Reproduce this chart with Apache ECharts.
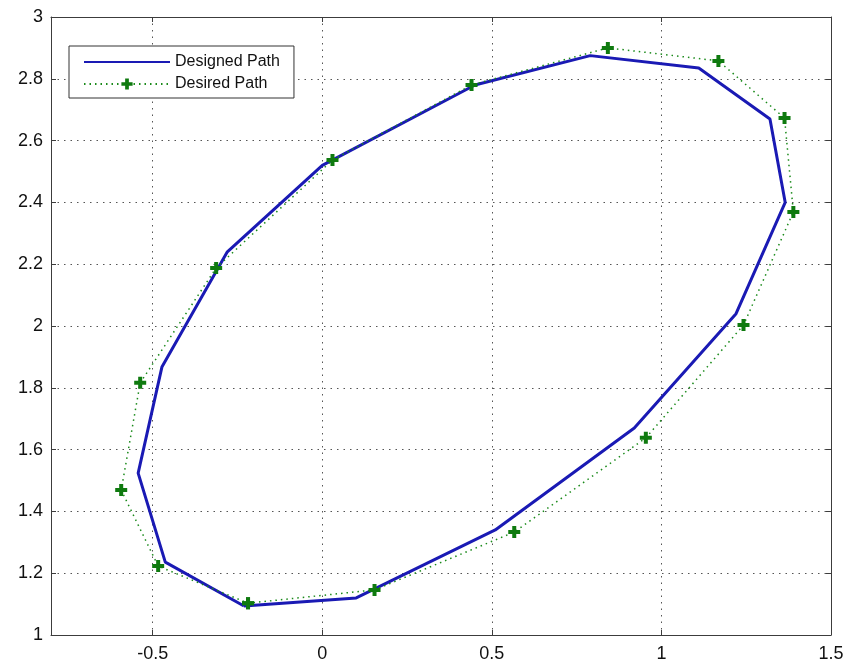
<!DOCTYPE html>
<html>
<head>
<meta charset="utf-8">
<script src="https://cdn.jsdelivr.net/npm/echarts@6/dist/echarts.min.js"></script>
<style>
  html, body { margin: 0; padding: 0; background: #fff; }
  #chart { width: 849px; height: 668px; }
</style>
</head>
<body>
<div id="chart"></div>
<script>
// path points (closed loops, first point repeated at the end)
const designedX = [-0.231, 0.10, 0.51, 0.92, 1.22, 1.365, 1.32, 1.11, 0.79, 0.45, 0.0, -0.28, -0.473, -0.543, -0.463, -0.231]
const designedY = [1.094, 1.12, 1.34, 1.67, 2.04, 2.40, 2.67, 2.835, 2.875, 2.78, 2.52, 2.24, 1.867, 1.524, 1.236, 1.094]

const desiredX = [-0.219, 0.154, 0.566, 0.954, 1.242, 1.389, 1.363, 1.168, 0.842, 0.44, 0.03, -0.313, -0.537, -0.593, -0.484, -0.219]
const desiredY = [1.103, 1.146, 1.333, 1.638, 2.003, 2.369, 2.673, 2.858, 2.90, 2.78, 2.537, 2.188, 1.816, 1.469, 1.223, 1.103]

const xTicks = [-0.5, 0, 0.5, 1, 1.5]
const seriesNames = ['Designed Path', 'Desired Path']

const pairs = (xs, ys) => xs.map((x, i) => [x, ys[i]])

const font = 'Liberation Sans, Arial, sans-serif'
const axisColor = '#3c3c3c'
const gridLine = { show: true, lineStyle: { color: '#555', width: 1, type: [1.5, 5] } }

const chart = echarts.init(document.getElementById('chart'))

const baseX = {
  type: 'value',
  min: -0.8,
  max: 1.5,
  axisLine: { show: true, onZero: false, lineStyle: { color: axisColor, width: 1 } },
  axisTick: { show: true, inside: true, length: 5, customValues: xTicks, lineStyle: { color: axisColor } },
  axisLabel: { customValues: xTicks, color: '#111', fontSize: 18, fontFamily: font, margin: 10 },
  splitLine: gridLine
}
const baseY = {
  type: 'value',
  min: 1,
  max: 3,
  interval: 0.2,
  axisLine: { show: true, onZero: false, lineStyle: { color: axisColor, width: 1 } },
  axisTick: { show: true, inside: true, length: 5, lineStyle: { color: axisColor } },
  axisLabel: { color: '#111', fontSize: 18, fontFamily: font, margin: 8 },
  splitLine: gridLine
}

chart.setOption({
  animation: false,
  backgroundColor: '#fff',
  grid: { left: 51, right: 18, top: 17, bottom: 33 },
  legend: {
    orient: 'vertical',
    left: 69,
    top: 46,
    padding: [8, 14, 6, 14],
    itemGap: 6,
    itemWidth: 86,
    itemHeight: 14,
    backgroundColor: '#fff',
    borderColor: '#333',
    borderWidth: 1,
    borderRadius: 0,
    textStyle: { fontSize: 16, fontFamily: font, color: '#111' },
    data: [
      { name: seriesNames[0], itemStyle: { opacity: 0 } },
      { name: seriesNames[1] }
    ]
  },
  xAxis: [
    baseX,
    Object.assign({}, baseX, { position: 'top', axisLabel: { show: false }, splitLine: { show: false } })
  ],
  yAxis: [
    baseY,
    Object.assign({}, baseY, { position: 'right', axisLabel: { show: false }, splitLine: { show: false } })
  ],
  series: [
    {
      name: seriesNames[0],
      type: 'line',
      data: pairs(designedX, designedY),
      symbol: 'none',
      lineStyle: { color: '#1a1ab4', width: 3 },
      itemStyle: { color: '#1a1ab4' },
      z: 3
    },
    {
      name: seriesNames[1],
      type: 'line',
      data: pairs(desiredX, desiredY),
      symbol: 'path://M4,0H8V4H12V8H8V12H4V8H0V4H4Z',
      symbolSize: 12,
      lineStyle: { color: '#1a8a1a', width: 1.5, type: [1.5, 4] },
      itemStyle: { color: '#0f7a0f' },
      z: 4
    }
  ]
})
</script>
</body>
</html>
